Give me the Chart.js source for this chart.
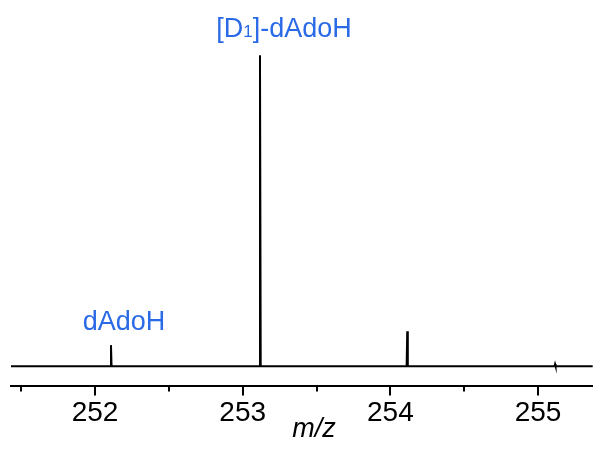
<!DOCTYPE html>
<html>
<head>
<meta charset="utf-8">
<script src="https://cdn.jsdelivr.net/npm/chart.js@4/dist/chart.umd.min.js"></script>
<style>
  html, body { margin: 0; padding: 0; background: #fff; }
  #wrap { width: 593px; height: 455px; }
</style>
</head>
<body>
<div id="wrap"><canvas id="ms-chart"></canvas></div>
<script>
// spectrum profile: m/z and relative intensity (main peak = 100)
const mz = [251.43, 252.104, 252.108, 252.112, 253.112, 253.117, 253.122,
            254.110, 254.114, 254.118, 255.111, 255.115, 255.119, 255.37];
const intensity = [0, 0, 6.8, 0, 0, 100, 0, 0, 11.3, 0, 0, 0.7, 0, 0];

const majorTicks = [252, 253, 254, 255];
const minorTicks = [251.5, 252.5, 253.5, 254.5];

// peak labels
const peakLabels = [
    { mz: 252.108, value: 6.8, main: 'dAdoH', sub: null, tail: null },
    { mz: 253.117, value: 100, main: '[D', sub: '1', tail: ']-dAdoH' }
];

const FONT = '"Liberation Sans", Arial, Helvetica, sans-serif';
const BLUE = '#2a6ae6';

const overlay = {
    id: 'overlay',
    afterDraw(chart) {
        const { ctx, scales: { x, y } } = chart;
        const axisY = chart.chartArea.bottom;
        ctx.save();

        // tick marks
        ctx.strokeStyle = '#000';
        ctx.lineWidth = 2;
        ctx.beginPath();
        majorTicks.forEach(v => {
            const px = Math.round(x.getPixelForValue(v));
            ctx.moveTo(px, axisY);
            ctx.lineTo(px, axisY + 9);
        });
        minorTicks.forEach(v => {
            const px = Math.round(x.getPixelForValue(v));
            ctx.moveTo(px, axisY);
            ctx.lineTo(px, axisY + 5);
        });
        ctx.stroke();

        // peak labels
        ctx.fillStyle = BLUE;
        ctx.textBaseline = 'alphabetic';
        ctx.textAlign = 'left';
        peakLabels.forEach(p => {
            const big = '27px ' + FONT;
            const small = '17px ' + FONT;
            ctx.font = big;
            let w = ctx.measureText(p.main).width;
            let ws = 0, wt = 0;
            if (p.sub) {
                ctx.font = small;
                ws = ctx.measureText(p.sub).width;
                ctx.font = big;
                wt = ctx.measureText(p.tail).width;
            }
            const total = w + ws + wt;
            const cx = x.getPixelForValue(p.mz) + (p.sub ? 24 : 13);
            const by = y.getPixelForValue(p.value) - (p.sub ? 18 : 15);
            let sx = cx - total / 2;
            ctx.font = big;
            ctx.fillText(p.main, sx, by);
            if (p.sub) {
                ctx.font = small;
                ctx.fillText(p.sub, sx + w, by);
                ctx.font = big;
                ctx.fillText(p.tail, sx + w + ws, by);
            }
        });

        // axis title
        ctx.fillStyle = '#000';
        ctx.font = 'italic 27px ' + FONT;
        ctx.textAlign = 'center';
        ctx.fillText('m/z', 314, 437);
        ctx.restore();
    }
};

new Chart(document.getElementById('ms-chart'), {
    type: 'line',
    data: {
        datasets: [{
            data: mz.map((v, i) => ({ x: v, y: intensity[i] })),
            borderColor: '#000',
            borderWidth: 2,
            pointRadius: 0,
            tension: 0,
            fill: false
        }]
    },
    options: {
        responsive: true,
        maintainAspectRatio: false,
        animation: false,
        devicePixelRatio: 1,
        layout: { padding: { left: 11, right: 0, top: 0, bottom: 24 } },
        plugins: {
            legend: { display: false },
            tooltip: { enabled: false }
        },
        scales: {
            x: {
                type: 'linear',
                min: 251.431,
                max: 255.372,
                afterBuildTicks: scale => {
                    scale.ticks = [...minorTicks, ...majorTicks]
                        .sort((a, b) => a - b)
                        .map(v => ({ value: v }));
                },
                ticks: {
                    autoSkip: false,
                    maxRotation: 0,
                    padding: 1,
                    color: '#000',
                    font: { family: FONT, size: 28 },
                    callback: v => Number.isInteger(v) ? String(v) : ''
                },
                grid: {
                    display: true,
                    drawOnChartArea: false,
                    drawTicks: true,
                    tickLength: 9,
                    color: 'rgba(0,0,0,0)'
                },
                border: { display: true, color: '#000', width: 2 }
            },
            y: {
                display: false,
                min: -6.47,
                max: 117.8
            }
        }
    },
    plugins: [overlay]
});
</script>
</body>
</html>
